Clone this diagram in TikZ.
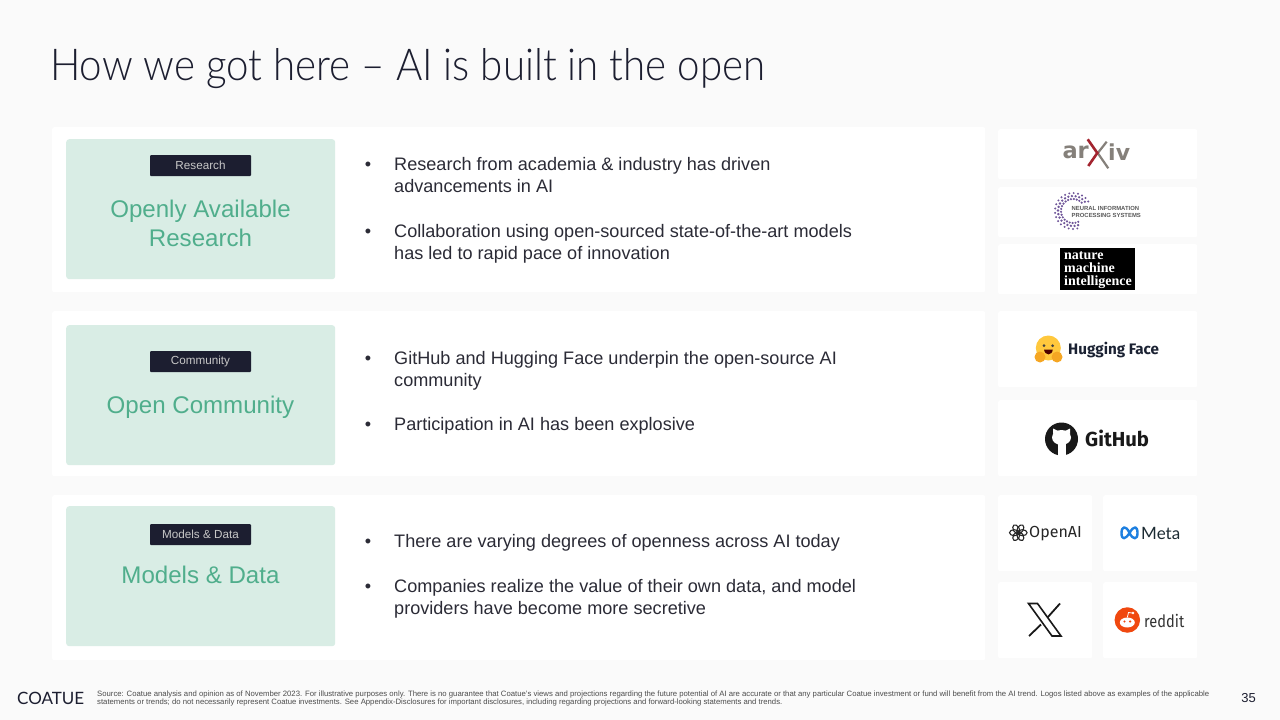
\documentclass[tikz,border=0pt]{standalone}
\usepackage{fontspec}
\setmainfont{Liberation Sans}
\newfontfamily\titlefont[FakeStretch=0.915]{Lato Light}
\newfontfamily\logofont{Lato}
\newfontfamily\serffont{Liberation Serif}
\newfontfamily\dejafont{DejaVu Sans}
\newfontfamily\firafont{Fira Sans}
\newfontfamily\narrowfont[FakeStretch=0.86]{Fira Sans}
\definecolor{pagebg}{HTML}{FAFAFA}
\definecolor{mintbg}{HTML}{D9EDE5}
\definecolor{mintfg}{HTML}{50AE8C}
\definecolor{tagbg}{HTML}{1C1E30}
\definecolor{bodyfg}{HTML}{2B2B36}
\definecolor{arxgrey}{HTML}{85807A}
\definecolor{arxred}{HTML}{A3242F}
\definecolor{nipspurple}{HTML}{6F5599}
\definecolor{hugyellow}{HTML}{FFC83D}
\definecolor{hugorange}{HTML}{F5A623}
\definecolor{hugtextfg}{HTML}{1B2233}
\definecolor{metablue}{HTML}{1D7FE0}
\definecolor{metafg}{HTML}{1C2B33}
\definecolor{redditorange}{HTML}{F0480F}
\tikzset{
	rowpanel/.style={fill=white,rounded corners=2pt,draw=none,inner sep=0pt},
	mintbox/.style={fill=mintbg,rounded corners=3pt,draw=none,inner sep=0pt},
	tagbox/.style={fill=tagbg,rounded corners=1pt,minimum width=101pt,minimum height=21pt,inner sep=0pt,text=white!78!black,font=\fontsize{11.7}{14}\selectfont},
	headtext/.style={text=mintfg,align=center,inner sep=0pt,font=\fontsize{24.1}{29}\selectfont},
	bodytext/.style={text=bodyfg,align=left,anchor=west,inner sep=0pt,font=\fontsize{18.1}{22}\selectfont},
	dotmark/.style={text=bodyfg,inner sep=0pt,font=\fontsize{18.1}{22}\selectfont},
	smallprint/.style={text=black!70,align=left,anchor=west,inner sep=0pt,font=\fontsize{7.74}{8}\selectfont},
}
\begin{document}
\begin{tikzpicture}[x=1pt,y=-1pt]
	\newcommand{\card}[5]{\node[rowpanel,anchor=north west,minimum width=#4pt,minimum height=#5pt] (#1) at (#2,#3) {};}
	\newcommand{\bitem}[3]{
		\node[dotmark] (#1dot) at (368,#2+2) {•};
		\node[bodytext,anchor=north west] (#1) at (394,#2-7) {#3};
	}
	\fill[pagebg] (0,0) rectangle (1280,720);
	\useasboundingbox (0,0) rectangle (1280,720);
	\node[anchor=west,inner sep=0pt,text=tagbg,font=\titlefont\fontsize{44}{50}\selectfont] (title) at (50,69) {How we got here – AI is built in the open};
	% rows
	\foreach \nm/\ya/\yb in {one/127/139,two/311/325,three/495/506}{
		\node[rowpanel,anchor=north west,minimum width=933pt,minimum height=165pt] (panel\nm) at (52,\ya) {};
		\node[mintbox,anchor=north west,minimum width=269pt,minimum height=140pt] (mint\nm) at (66,\yb) {};
	}
	\node[tagbox] (tagone) at (200.5,165.5) {Research};
	\node[tagbox] (tagtwo) at (200.5,361.5) {Community};
	\node[tagbox] (tagthree) at (200.5,534.5) {Models \& Data};
	\node[headtext] (headone) at (200.5,223) {Openly Available\\Research};
	\node[headtext] (headtwo) at (200.5,407) {Open Community};
	\node[headtext] (headthree) at (200.5,575) {Models \& Data};
	% bullets
	\bitem{bulla}{164}{Research from academia \& industry has driven\\advancements in AI}
	\bitem{bullb}{231}{Collaboration using open-sourced state-of-the-art models\\has led to rapid pace of innovation}
	\bitem{bullc}{358}{GitHub and Hugging Face underpin the open-source AI\\community}
	\bitem{bulld}{424}{Participation in AI has been explosive}
	\bitem{bulle}{541}{There are varying degrees of openness across AI today}
	\bitem{bullf}{586}{Companies realize the value of their own data, and model\\providers have become more secretive}
	% logo cards
	\card{cardarx}{998}{129}{199}{50}
	\card{cardnips}{998}{187}{199}{50}
	\card{cardnat}{998}{244}{199}{50}
	\card{cardhug}{998}{311}{199}{76}
	\card{cardgit}{998}{400}{199}{76}
	\card{cardopen}{998}{495}{94}{76}
	\card{cardmeta}{1103}{495}{94}{76}
	\card{cardx}{998}{582}{94}{76}
	\card{cardred}{1103}{582}{94}{76}
	% arxiv
	\node[anchor=east,inner sep=0pt,text=arxgrey,font=\dejafont\bfseries\fontsize{22.5}{24}\selectfont] (arxa) at (1089,152) {ar};
	\node[anchor=west,inner sep=0pt,text=arxgrey,font=\dejafont\bfseries\fontsize{22}{24}\selectfont] (arxb) at (1108,152) {iv};
	\draw[arxgrey,line width=2.2pt] (1097,152) -- (1108.3,168.3) (1097,154) -- (1106.7,141.7);
	\draw[arxred,line width=2.6pt] (1087.7,139.3) -- (1098,154) (1098,152) -- (1088.3,166);
	% neurips
	\foreach \ang in {40,54,...,292}{
		\foreach \rad/\sz in {18/1.1,15/1.3,12/1.2}{
			\fill[nipspurple] (1073,211) ++({\ang+\rad*2}:\rad) circle (\sz pt);
		}
	}
	\node[anchor=west,align=left,inner sep=0pt,text=black!65,font=\bfseries\fontsize{5.9}{7}\selectfont] (nipstext) at (1071.5,211.5) {NEURAL INFORMATION\\PROCESSING SYSTEMS};
	% nature
	\node[fill=black,anchor=north west,minimum width=75pt,minimum height=42pt,inner sep=0pt] (natbox) at (1060,248) {};
	\node[anchor=west,align=left,inner sep=0pt,text=white,font=\serffont\bfseries\fontsize{14}{13}\selectfont] (nattext) at (1064,270.5) {nature\\machine\\intelligence};
	% hugging face
	\node[circle,fill=hugyellow,minimum size=25pt,inner sep=0pt] (hugface) at (1048.3,348) {};
	\fill[hugorange] (1040,357) circle (5.5) (1057,357) circle (5.5);
	\fill[black!75] (1044,345.7) circle (1.5) (1052.6,345.7) circle (1.5);
	\fill[black!70!red] (1044,349.5) .. controls (1045,356) and (1052,356) .. (1052.8,349.5) -- cycle;
	\node[anchor=west,inner sep=0pt,text=hugtextfg,font=\firafont\bfseries\fontsize{15.2}{16}\selectfont] (hugtext) at (1068,350) {Hugging Face};
	% github
	\node[circle,fill=black!90,minimum size=33pt,inner sep=0pt] (gitmark) at (1061.5,439) {};
	\fill[white] (1061.5,437.5) ellipse (9.5 and 7.5);
	\fill[white] (1053,434) -- (1053,428.5) -- (1059,431.5) -- cycle (1070,434) -- (1070,428.5) -- (1064,431.5) -- cycle;
	\fill[white] (1057.5,443) rectangle (1065.5,456);
	\node[anchor=west,inner sep=0pt,text=black!90,font=\firafont\bfseries\fontsize{20.3}{22}\selectfont] (gittext) at (1085,438.5) {GitHub};
	% openai
	\foreach \ang in {0,60,...,300}{
		\draw[black!85,line width=1.1pt,rotate around={\ang:(1018.3,532.7)}] (1018.3,532.7) ++(4,0) ellipse (4.8 and 3);
	}
	\node[anchor=west,inner sep=0pt,text=black!85,font=\firafont\fontsize{16}{18}\selectfont] (opentext) at (1029,533.5) {OpenAI};
	% meta
	\draw[metablue,line width=2.4pt,line join=round] (1129.5,533) .. controls (1126,525) and (1121.5,526) .. (1121.5,533) .. controls (1121.5,540) and (1125,540) .. (1129.5,533) .. controls (1134,525) and (1137.5,526) .. (1137.5,533) .. controls (1137.5,540) and (1133,540) .. (1129.5,533);
	\node[anchor=west,inner sep=0pt,text=metafg,font=\logofont\fontsize{17}{18}\selectfont] (metatext) at (1141,533) {Meta};
	% x
	\draw[black!90,line width=1.6pt,line join=miter] (1028.5,603.5) -- (1037.5,603.5) -- (1061,636) -- (1052,636) -- cycle;
	\draw[black!90,line width=1.8pt] (1060,603.5) -- (1047.5,617.5) (1041,624.5) -- (1029,636);
	% reddit
	\node[circle,fill=redditorange,minimum size=25.5pt,inner sep=0pt] (redmark) at (1127.3,620) {};
	\fill[white] (1127.3,622.5) ellipse (7.5 and 5);
	\fill[redditorange] (1124.5,621.5) circle (1.2) (1130.1,621.5) circle (1.2);
	\draw[white,line width=.8pt] (1127.3,617.5) -- (1128.5,612.5) -- (1132,613);
	\fill[white] (1133,613) circle (1.4);
	\node[anchor=west,inner sep=0pt,text=black!80,font=\narrowfont\fontsize{17}{20}\selectfont] (redtext) at (1144,620.5) {reddit};
	% footer
	\node[anchor=west,inner sep=0pt,text=tagbg,font=\logofont\fontsize{17}{20}\selectfont] (brand) at (17,698.5) {COATUE};
	\node[smallprint] (source) at (97,698.5) {Source: Coatue analysis and opinion as of November 2023. For illustrative purposes only. There is no guarantee that Coatue’s views and projections regarding the future potential of AI are accurate or that any particular Coatue investment or fund will benefit from the AI trend. Logos listed above as examples of the applicable\\statements or trends; do not necessarily represent Coatue investments. See Appendix-Disclosures for important disclosures, including regarding projections and forward-looking statements and trends.};
	\node[anchor=east,inner sep=0pt,text=tagbg,font=\fontsize{13}{15}\selectfont] (pagenum) at (1256,698.5) {35};
\end{tikzpicture}
\end{document}
